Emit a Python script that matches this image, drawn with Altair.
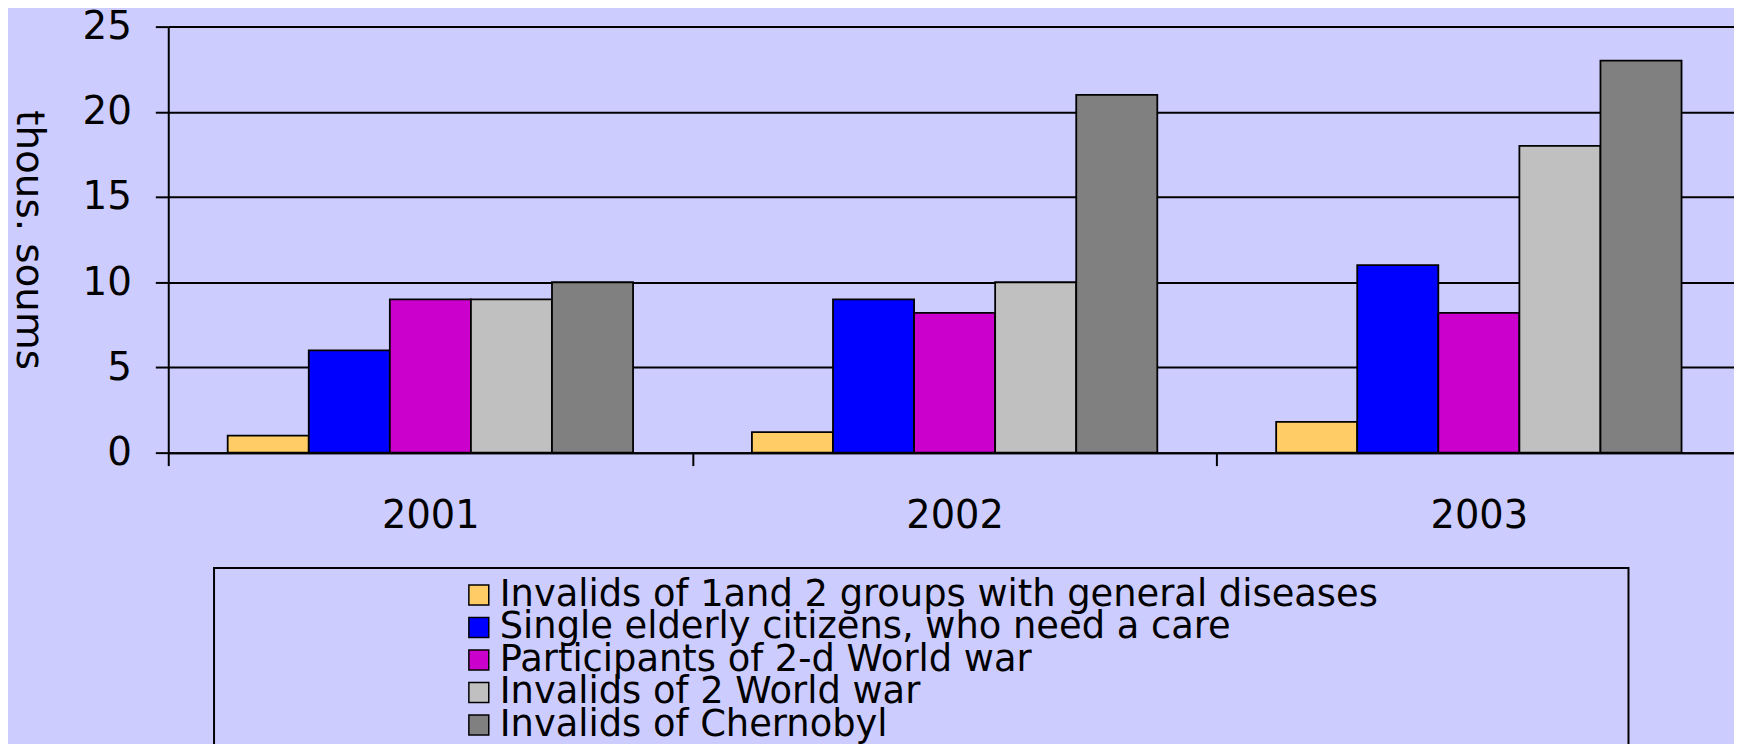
import altair as alt
import pandas as pd

years = ["2001", "2002", "2003"]
series = [
    "Invalids of  1and 2 groups with general diseases",
    "Single elderly citizens, who need  a care",
    "Participants of  2-d World war",
    "Invalids of 2 World war",
    "Invalids of Chernobyl",
]
colors = ["#FFCC66", "#0000FF", "#CC00CC", "#C0C0C0", "#808080"]

invalids_groups = [1.0, 1.2, 1.8]
single_elderly = [6, 9, 11]
participants_ww2 = [9, 8.2, 8.2]
invalids_ww2 = [9, 10, 18]
invalids_chernobyl = [10, 21, 23]

y_ticks = [0, 5, 10, 15, 20, 25]

all_values = [invalids_groups, single_elderly, participants_ww2, invalids_ww2, invalids_chernobyl]
rows = []
for s, vals in zip(series, all_values):
    for yr, v in zip(years, vals):
        rows.append({"year": yr, "series": s, "value": v})
df = pd.DataFrame(rows)
legend_df = pd.DataFrame({"series": series})

FONT = "DejaVu Sans"
color_scale = alt.Scale(domain=series, range=colors)

bars = alt.Chart(df).mark_bar(stroke="black", strokeWidth=1.8).encode(
    x=alt.X(
        "year:N",
        sort=years,
        scale=alt.Scale(range=[0, 1580], paddingInner=0, paddingOuter=0),
        axis=alt.Axis(
            title=None, labelAngle=0, tickBand="extent", tickSize=13, tickWidth=2,
            tickColor="black", domainColor="black", domainWidth=2,
            labelFontSize=38.5, labelPadding=32, labelColor="black", labelFont=FONT,
            grid=False,
        ),
    ),
    xOffset=alt.XOffset(
        "series:N", sort=series, scale=alt.Scale(paddingInner=0, paddingOuter=0.733)
    ),
    y=alt.Y(
        "value:Q",
        scale=alt.Scale(domain=[0, 25], nice=False),
        axis=alt.Axis(
            values=y_ticks, title="thous. soums", titleAngle=90, titleX=-140, titleY=214,
            titleAlign="center", titleBaseline="middle", titleFontSize=39,
            titleFontWeight="normal", titleFont=FONT, titleColor="black",
            labelFontSize=39, labelPadding=24, labelColor="black", labelFont=FONT,
            tickSize=13, tickWidth=2, tickColor="black",
            domainColor="black", domainWidth=2,
            gridColor="black", gridWidth=2, gridOpacity=1,
        ),
    ),
    color=alt.Color("series:N", sort=series, scale=color_scale, legend=None),
)

legend_y = alt.Y(
    "series:N", sort=series,
    scale=alt.Scale(type="point", range=[571, 701.6], padding=0),
    axis=None,
)

legend_symbols = alt.Chart(legend_df).mark_square(
    size=400, stroke="black", strokeWidth=1.5, opacity=1
).encode(
    x=alt.value(312),
    y=legend_y,
    color=alt.Color("series:N", sort=series, scale=color_scale, legend=None),
)

legend_labels = alt.Chart(legend_df).mark_text(
    align="left", baseline="middle", fontSize=37, font=FONT, color="black"
).encode(
    x=alt.value(333),
    y=legend_y,
    text="series:N",
)

frame = alt.Chart(pd.DataFrame({"k": [0]})).mark_rect(
    filled=False, stroke="black", strokeWidth=2
).encode(
    x=alt.value(46), x2=alt.value(1467), y=alt.value(544), y2=alt.value(760)
)

legend_layer = alt.layer(legend_symbols, legend_labels)

chart = alt.layer(frame, bars, legend_layer).resolve_scale(y="independent").properties(
    width=1573,
    height=428,
    padding={"left": 161, "top": 17, "right": 0, "bottom": 291},
    autosize=alt.AutoSizeParams(type="none"),
).configure(
    background="#CCCCFF", font=FONT
).configure_view(strokeWidth=0)

chart.save("out.html", embed_options={"renderer": "svg", "actions": False})
